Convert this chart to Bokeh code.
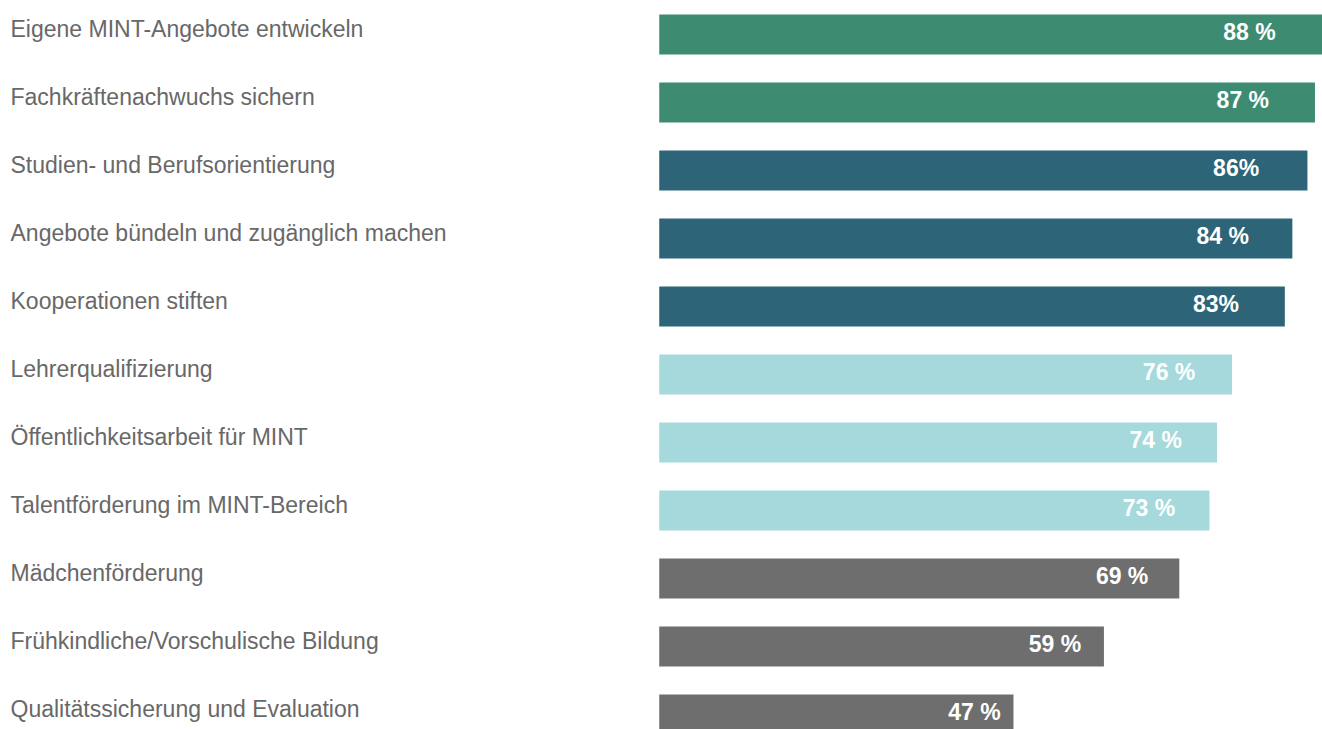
from bokeh.plotting import figure
from bokeh.models import ColumnDataSource, Range1d
from bokeh.core.properties import value
from bokeh.embed import file_html
from bokeh.resources import INLINE

categories = [
    "Eigene MINT-Angebote entwickeln",
    "Fachkräftenachwuchs sichern",
    "Studien- und Berufsorientierung",
    "Angebote bündeln und zugänglich machen",
    "Kooperationen stiften",
    "Lehrerqualifizierung",
    "Öffentlichkeitsarbeit für MINT",
    "Talentförderung im MINT-Bereich",
    "Mädchenförderung",
    "Frühkindliche/Vorschulische Bildung",
    "Qualitätssicherung und Evaluation",
]
values = [88, 87, 86, 84, 83, 76, 74, 73, 69, 59, 47]
value_labels = ["88 %", "87 %", "86%", "84 %", "83%", "76 %", "74 %", "73 %", "69 %", "59 %", "47 %"]
groups = ["g1", "g1", "g2", "g2", "g2", "g3", "g3", "g3", "g4", "g4", "g4"]

palette = {"g1": "#3d8c72", "g2": "#2d6477", "g3": "#a6d9dc", "g4": "#6e6e6e"}

idx = list(range(len(categories)))
src = ColumnDataSource(dict(
    y=idx,
    val=values,
    cat=categories,
    lab=value_labels,
    color=[palette[g] for g in groups],
    labx=[v * 0.89 for v in values],
    zero=[0] * len(values),
))

p = figure(width=1322, height=729, output_backend="svg", toolbar_location=None,
           x_range=Range1d(-87.4, 88.0), y_range=Range1d(10.22, -0.5),
           min_border=0, outline_line_color=None, background_fill_color="white",
           border_fill_color="white")
p.axis.visible = False
p.grid.visible = False

p.hbar(y="y", left="zero", right="val", height=0.59, color="color", source=src,
       line_color=None)

p.text(x=-87.4, y="y", text="cat", source=src, x_offset=10, y_offset=-6,
       text_font=value("Liberation Sans"), text_font_size="23px",
       text_color="#686868", text_baseline="middle", text_align="left")

p.text(x="labx", y="y", text="lab", source=src, y_offset=-3,
       text_font=value("Liberation Sans"), text_font_size="23px", text_font_style="bold",
       text_color="white", text_baseline="middle", text_align="center")

open("out.html", "w").write(file_html(p, INLINE))
